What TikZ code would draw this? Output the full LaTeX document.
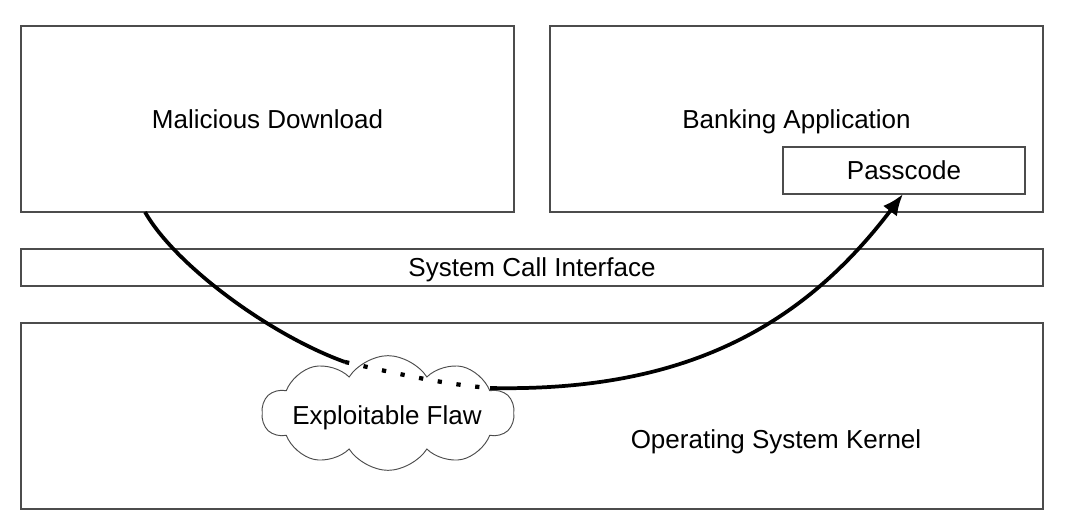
\documentclass[tikz,border=0pt]{standalone}
\usepackage{fontspec}
\setmainfont{Liberation Sans}
\usetikzlibrary{shapes.symbols,arrows.meta}
\begin{document}
\begin{tikzpicture}[x=0.75pt,y=-0.75pt,
  box/.style={draw=black!70,line width=0.9pt,inner sep=0pt,text height=14pt,text depth=0pt,font=\fontsize{19.5}{23}\selectfont},
  lbl/.style={inner sep=0pt,text height=14pt,text depth=0pt,font=\fontsize{19.5}{23}\selectfont},
  flow/.style={line width=2.8pt,line cap=butt}]
\useasboundingbox (0,0) rectangle (1068,532);
\fill[white] (0,0) rectangle (1068,532);
\node[box,minimum width=369.75pt,minimum height=139.5pt] (dl) at (267.5,119) {Malicious Download};
\node[box,minimum width=369.75pt,minimum height=139.5pt] (bank) at (796.5,119) {Banking Application};
\node[box,minimum width=181.5pt,minimum height=35.25pt] (pass) at (904,170.5) {Passcode};
\node[box,minimum width=766.5pt,minimum height=27.75pt] (sci) at (532,267.5) {System Call Interface};
\node[box,minimum width=766.5pt,minimum height=139.5pt] (kern) at (532,416) {};
\node[lbl] (kernlbl) at (776,439) {Operating System Kernel};
\node[cloud,cloud puffs=10,cloud puff arc=115,aspect=2.2,draw=black!70,line width=0.7pt,fill=white,
  minimum width=189pt,minimum height=86pt,inner sep=0pt] (flaw) at (388,413) {};
\node[lbl] (flawlbl) at (387,415) {Exploitable Flaw};
\coordinate (s) at (145,212);
\coordinate (p) at (345,362);
\coordinate (q) at (490,388);
\coordinate (e) at (903,194);
\draw[flow] (s) .. controls (175,265) and (270,335) .. (p);
\draw[line width=3.2pt,dash pattern=on 3.2pt off 11pt] (p) .. controls (390,372) and (440,384) .. (q);
\draw[flow,-{Latex[length=16pt,width=13pt]}] (q) .. controls (680,392) and (800,330) .. (e);
\end{tikzpicture}
\end{document}
